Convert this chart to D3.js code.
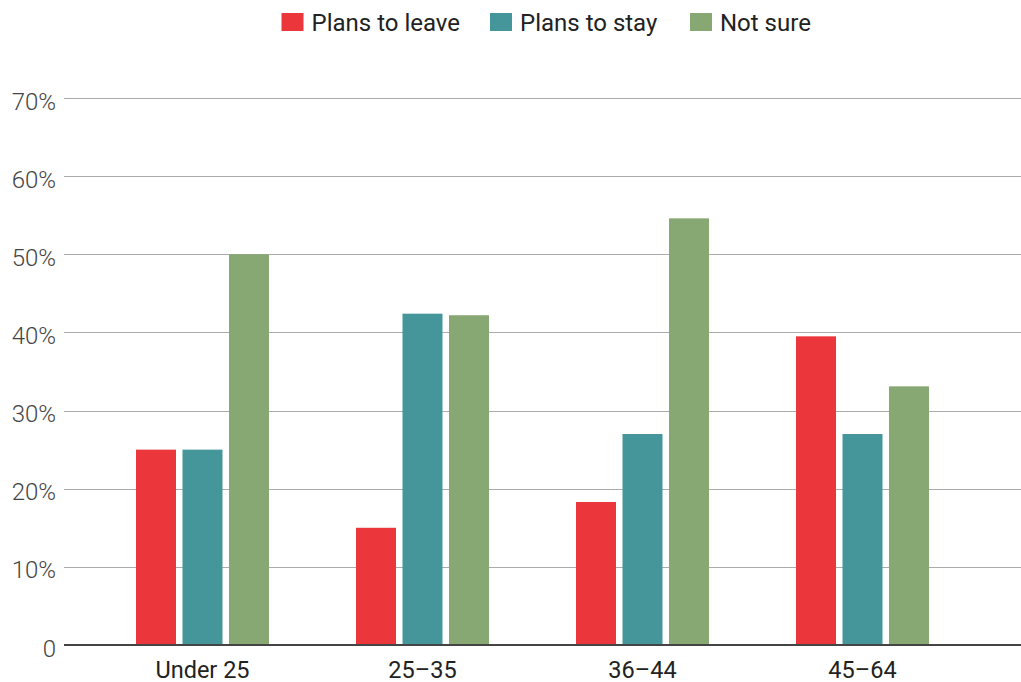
<!DOCTYPE html>
<html><head><meta charset="utf-8">
<script src="https://cdn.jsdelivr.net/npm/d3@7"></script>
<style>body{margin:0;background:#fff;} svg{display:block;font-family:Roboto,"Noto Sans",sans-serif;}</style>
</head><body>
<svg id="c" width="1021" height="682"></svg>
<script>
const categories = ["Under 25", "25\u201335", "36\u201344", "45\u201364"];
const seriesNames = ["Plans to leave", "Plans to stay", "Not sure"];
const plansToLeave = [25, 15, 18.3, 39.5];
const plansToStay = [25, 42.4, 27, 27];
const notSure = [50, 42.2, 54.6, 33.1];
const colors = ["#EB373B", "#44969B", "#87A873"];
const yTicks = [0, 10, 20, 30, 40, 50, 60, 70];
const tickLabels = ["0", "10%", "20%", "30%", "40%", "50%", "60%", "70%"];

const series = [plansToLeave, plansToStay, notSure];
const svg = d3.select("#c");
const y = d3.scaleLinear().domain([0, 70]).range([645, 98]);
const x0 = d3.scaleBand().domain(categories).range([92.5, 972.5]).padding(0);
const x1 = d3.scaleBand().domain(seriesNames).range([43.5, 176.5]).paddingInner(0.14).paddingOuter(0);

// grid
const grid = svg.append("g");
grid.selectAll("line").data(yTicks.filter(d => d > 0)).join("line")
  .attr("x1", 64).attr("x2", 1021)
  .attr("y1", d => Math.round(y(d)) + 0.5).attr("y2", d => Math.round(y(d)) + 0.5)
  .attr("stroke", "#ababab").attr("stroke-width", 1);

// y labels
svg.append("g").selectAll("text").data(yTicks).join("text")
  .attr("x", 56).attr("y", d => y(d) + 3).attr("dy", "0.36em")
  .attr("text-anchor", "end").attr("font-size", 24).attr("font-weight", 300).attr("fill", "#444")
  .text((d, i) => tickLabels[i]);

// bars
const groups = svg.append("g").selectAll("g").data(categories).join("g")
  .attr("transform", d => `translate(${x0(d)},0)`);
groups.selectAll("rect").data((c, ci) => seriesNames.map((s, si) => ({s, si, v: series[si][ci]}))).join("rect")
  .attr("x", d => x1(d.s)).attr("width", x1.bandwidth())
  .attr("y", d => y(d.v)).attr("height", d => y(0) - y(d.v))
  .attr("fill", d => colors[d.si]);

// baseline
svg.append("line").attr("x1", 64).attr("x2", 1021).attr("y1", 645).attr("y2", 645)
  .attr("stroke", "#444").attr("stroke-width", 2);

// x labels
svg.append("g").selectAll("text").data(categories).join("text")
  .attr("x", d => x0(d) + x0.bandwidth() / 2).attr("y", 678)
  .attr("text-anchor", "middle").attr("font-size", 23.5).attr("fill", "#222")
  .text(d => d);

// legend
const legendX = [281.5, 490, 690];
const lg = svg.append("g").selectAll("g").data(seriesNames).join("g")
  .attr("transform", (d, i) => `translate(${legendX[i]},13)`);
lg.append("rect").attr("width", 22).attr("height", 18).attr("fill", (d, i) => colors[i]);
lg.append("text").attr("x", 30).attr("y", 18).attr("font-size", 24).attr("fill", "#222").text(d => d);
</script>
</body></html>
